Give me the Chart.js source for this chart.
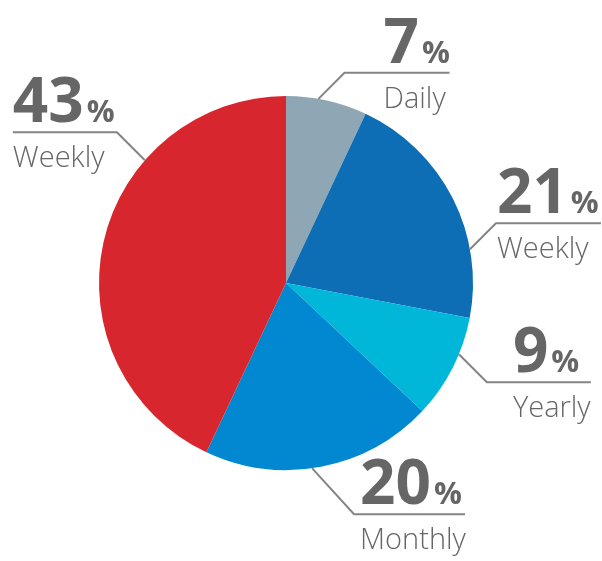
<!DOCTYPE html>
<html>
<head>
<meta charset="utf-8">
<script src="https://cdn.jsdelivr.net/npm/chart.js@4/dist/chart.umd.min.js"></script>
<style>
  html, body { margin: 0; padding: 0; background: #ffffff; }
  #wrap { width: 602px; height: 561px; position: relative; }
</style>
</head>
<body>
<div id="wrap"><canvas id="c" width="602" height="561"></canvas></div>
<script>
// ---- data ----
const categories = ["Daily", "Weekly", "Yearly", "Monthly", "Weekly"];
const shares = [7, 21, 9, 20, 43];
const sliceColors = ["#8fa6b4", "#0d6db5", "#00b7d9", "#0288d1", "#d7262e"];

// ---- label layout (angle in degrees clockwise from top, elbow offsets, line length, text offset) ----
const labelAngle = [10, 79.6, 112.4, 172, 311];
const elbowDX = [26, 26, 28, 42, -28];
const elbowDY = [-26, -26, 28, 46, -28];
const lineLen = [105, 105, 104, 111, -104];
const textDX = [39, 1, 26, 6, -104];

const labelPlugin = {
  id: 'leaderLabels',
  afterDatasetsDraw(chart) {
    const ctx = chart.ctx;
    const meta = chart.getDatasetMeta(0);
    meta.data.forEach((arc, i) => {
      const r = arc.outerRadius;
      const a = (labelAngle[i] - 90) * Math.PI / 180;
      const ax = arc.x + r * Math.cos(a);
      const ay = arc.y + r * Math.sin(a);
      const ex = ax + elbowDX[i];
      const ey = ay + elbowDY[i];
      const lx = ex + lineLen[i];
      ctx.save();
      ctx.strokeStyle = '#848484';
      ctx.lineWidth = 2;
      ctx.beginPath();
      ctx.moveTo(ax, ay);
      ctx.lineTo(ex, ey);
      ctx.lineTo(lx, ey);
      ctx.stroke();

      const tx = ex + textDX[i];
      ctx.fillStyle = '#666666';
      ctx.textAlign = 'left';
      ctx.textBaseline = 'alphabetic';
      ctx.font = 'bold 62px "Open Sans"';
      const num = String(shares[i]);
      ctx.fillText(num, tx, ey - 10);
      const w = ctx.measureText(num).width;
      ctx.font = 'bold 31px "Open Sans"';
      ctx.fillText('%', tx + w + 3, ey - 10);
      ctx.font = '300 29px "Open Sans"';
      ctx.fillText(categories[i], tx, ey + 35);
      ctx.restore();
    });
  }
};

new Chart(document.getElementById('c'), {
  type: 'pie',
  data: {
    labels: categories,
    datasets: [{
      data: shares,
      backgroundColor: sliceColors,
      borderWidth: 0
    }]
  },
  options: {
    responsive: false,
    animation: false,
    layout: { padding: { left: 99, right: 129, top: 96, bottom: 91 } },
    plugins: {
      legend: { display: false },
      tooltip: { enabled: false }
    }
  },
  plugins: [labelPlugin]
});
</script>
</body>
</html>
